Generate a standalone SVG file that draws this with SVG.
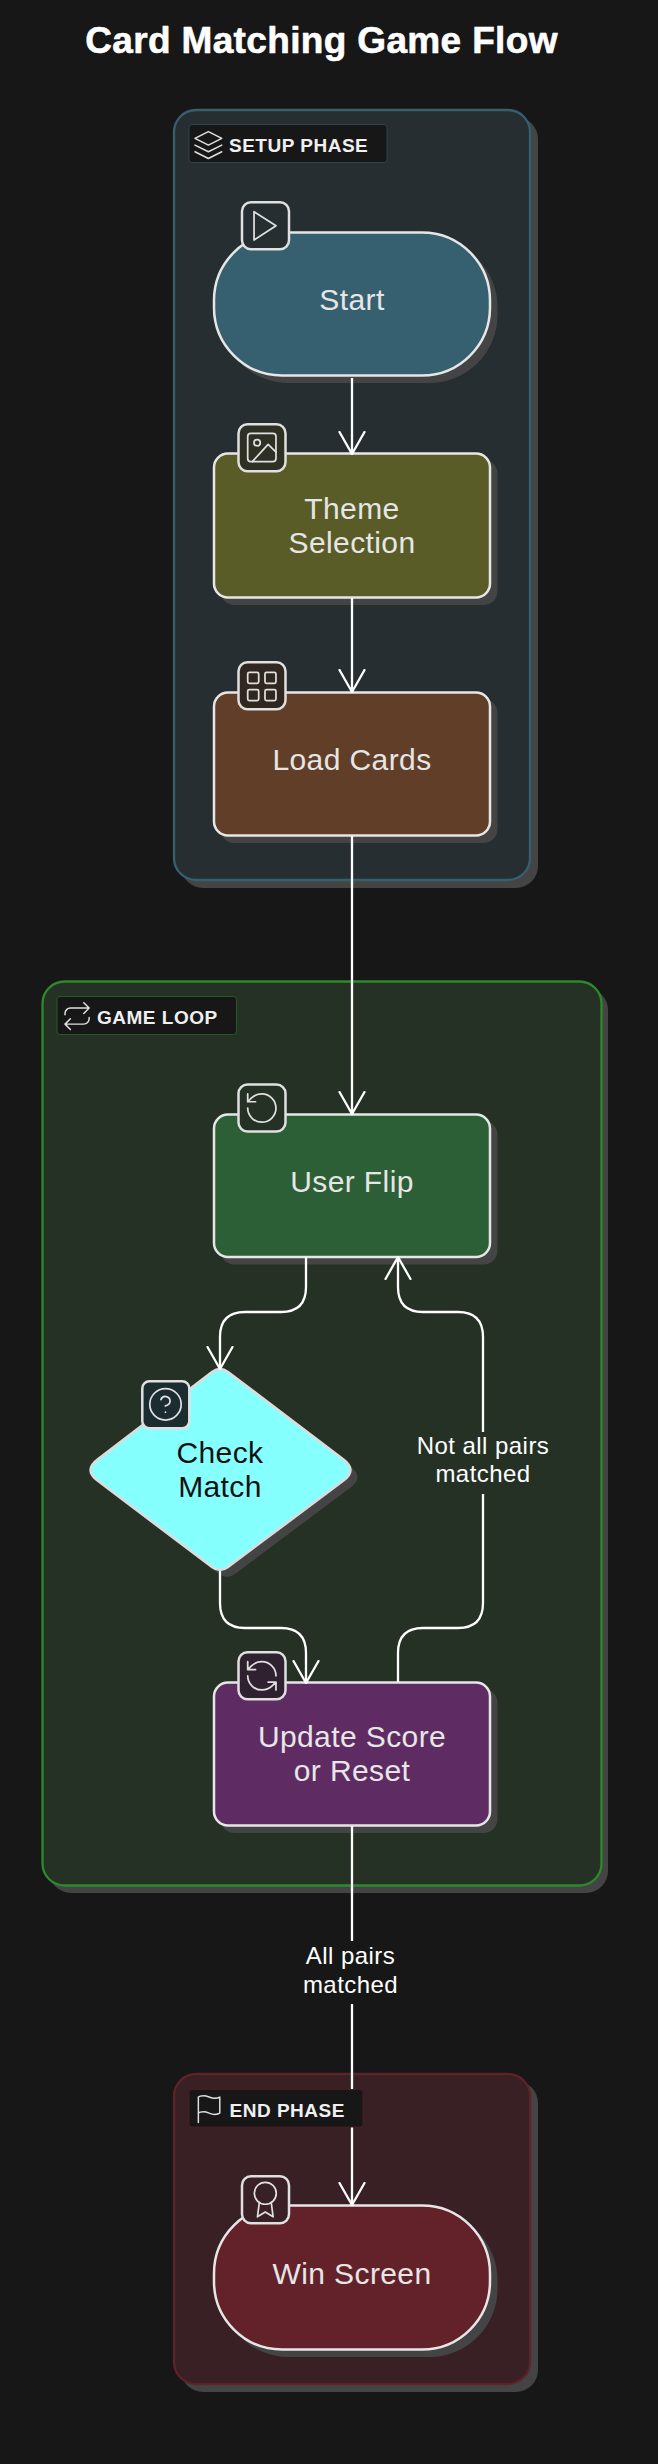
<svg xmlns="http://www.w3.org/2000/svg" width="658" height="2464" viewBox="0 0 658 2464">
<defs>
<marker id="arrow" viewBox="0 0 24 28" refX="23" refY="14" markerWidth="24" markerHeight="28" markerUnits="userSpaceOnUse" orient="auto"><path d="M1 1.500 L23 14 L1 26.500" fill="none" stroke="#ffffff" stroke-width="2.300" stroke-linecap="round" stroke-linejoin="round"/></marker>
</defs>
<style>
text{font-family:"Liberation Sans",Arial,sans-serif;text-anchor:middle}
.bg{fill:#171717}
.shadow{fill:#444444}
.ctitle{font-size:19px;font-weight:700;fill:#f0f0f0;text-anchor:start;letter-spacing:.5px}
.lab{fill:#171717;stroke-width:1}
.node{stroke:#e6e6e6;stroke-width:2.500}
.ntext{font-size:30px;fill:#e6e6e6;letter-spacing:.4px}
.badge{stroke:#e0e0e0;stroke-width:2.500}
.ico{fill:none;stroke:#e0e0e0;stroke-width:1.100;stroke-linecap:round;stroke-linejoin:round}
.edge{fill:none;stroke:#ffffff;stroke-width:2.300}
.elab{font-size:24px;fill:#ffffff;letter-spacing:.45px}
</style>
<rect class="bg" width="658" height="2464"/>
<text x="321.500" y="52.500" font-size="37" font-weight="700" fill="#ffffff" stroke="#ffffff" stroke-width=".6" stroke-linejoin="round" letter-spacing=".35">Card Matching Game Flow</text>

<g id="cluster-setup">
<rect class="shadow" x="181" y="117" width="357" height="771" rx="22"/>
<rect x="174" y="110" width="356" height="770" rx="22" fill="#262E31" stroke="#36606F" stroke-width="2.300"/>
<rect class="lab" x="189" y="124.500" width="198" height="38" rx="3" stroke="#2b4753"/>
<g class="ico" transform="translate(192.300 129) scale(1.340)"><path d="M12 2 L2 7 L12 12 L22 7 Z M2 17 L12 22 L22 17 M2 12 L12 17 L22 12"/></g>
<text class="ctitle" x="229" y="152">SETUP PHASE</text>
</g>
<g id="cluster-loop">
<rect class="shadow" x="49" y="988" width="559" height="905" rx="22"/>
<rect x="42.500" y="981.500" width="559" height="904" rx="22" fill="#263126" stroke="#2B8A2B" stroke-width="2.300"/>
<rect class="lab" x="57" y="996.500" width="179.500" height="38" rx="3" stroke="#235c23"/>
<g class="ico" transform="translate(61 1000) scale(1.340)"><path d="M17 2l4 4-4 4M3 11v-1a4 4 0 0 1 4-4h14M7 22l-4-4 4-4M21 13v1a4 4 0 0 1-4 4H3"/></g>
<text class="ctitle" x="97" y="1024">GAME LOOP</text>
</g>
<g id="cluster-end">
<rect class="shadow" x="181" y="2081" width="357" height="311" rx="22"/>
<rect x="174" y="2074" width="356" height="310" rx="22" fill="#392025" stroke="#5E2229" stroke-width="2.300"/>
</g>

<g id="node-start">
<rect class="shadow" x="220.500" y="239" width="277" height="144" rx="68"/>
<rect class="node" x="214" y="232.500" width="276" height="143" rx="68" fill="#36606F"/>
<text class="ntext" x="352" y="310">Start</text>
<rect class="badge" x="242" y="202.300" width="47" height="47" rx="9" fill="#262E31"/>
<g class="ico" transform="translate(244.600 207) scale(1.570)"><path d="M6 3 L20 12 L6 21 Z"/></g>
</g>
<g id="node-theme">
<rect class="shadow" x="220.500" y="460" width="277" height="145" rx="14"/>
<rect class="node" x="214" y="453.500" width="276" height="144" rx="14" fill="#5A5C28"/>
<text class="ntext" x="352" y="519">Theme</text><text class="ntext" x="352" y="553">Selection</text>
<rect class="badge" x="238.500" y="424.300" width="47" height="47" rx="9" fill="#2F3024"/>
<g class="ico" transform="translate(243 428.600) scale(1.570)"><rect x="3" y="3" width="18" height="18" rx="2"/><circle cx="9" cy="9" r="2"/><path d="M21 15l-5-5L6 21"/></g>
</g>
<g id="node-load">
<rect class="shadow" x="220.500" y="699" width="277" height="144" rx="14"/>
<rect class="node" x="214" y="692.500" width="276" height="143" rx="14" fill="#613E27"/>
<text class="ntext" x="352" y="770">Load Cards</text>
<rect class="badge" x="238.500" y="662.300" width="47" height="47" rx="9" fill="#302721"/>
<g class="ico" transform="translate(243 667.600) scale(1.570)"><rect x="3" y="3" width="7" height="7" rx="1"/><rect x="14" y="3" width="7" height="7" rx="1"/><rect x="14" y="14" width="7" height="7" rx="1"/><rect x="3" y="14" width="7" height="7" rx="1"/></g>
</g>
<g id="node-flip">
<rect class="shadow" x="220.500" y="1121" width="277" height="143.500" rx="14"/>
<rect class="node" x="214" y="1114.500" width="276" height="142.500" rx="14" fill="#2C5F35"/>
<text class="ntext" x="352" y="1192">User Flip</text>
<rect class="badge" x="238.500" y="1084.600" width="47" height="47" rx="9" fill="#263126"/>
<g class="ico" transform="translate(243 1089.200) scale(1.570)"><path d="M3 12a9 9 0 1 0 9-9 9.750 9.750 0 0 0-6.740 2.740L3 8M3 3v5h5"/></g>
</g>
<g id="node-check">
<path class="shadow" transform="translate(7 7)" d="M212 1372 Q220 1366 228 1372 L343.500 1459.400 Q357.500 1470 343.500 1480.600 L228 1567 Q220 1573 212 1567 L97.500 1480.600 Q83.500 1470 97.500 1459.400 Z"/>
<path d="M212 1372 Q220 1366 228 1372 L343.500 1459.400 Q357.500 1470 343.500 1480.600 L228 1567 Q220 1573 212 1567 L97.500 1480.600 Q83.500 1470 97.500 1459.400 Z" fill="#86FFFF" stroke="#dcdcdc" stroke-width="2.500"/>
<text x="220" y="1463" font-size="30" letter-spacing=".4" fill="#111111">Check</text><text x="220" y="1497" font-size="30" letter-spacing=".4" fill="#111111">Match</text>
<rect class="badge" x="142.300" y="1381.300" width="47" height="47" rx="7" fill="#1C2D31"/>
<g class="ico" transform="translate(146.650 1385.500) scale(1.570)"><circle cx="12" cy="12" r="10"/><path d="M9.090 9a3 3 0 0 1 5.830 1c0 2-3 3-3 3M12 17h.01"/></g>
</g>
<g id="node-update">
<rect class="shadow" x="220.500" y="1689" width="277" height="144" rx="14"/>
<rect class="node" x="214" y="1682.500" width="276" height="143" rx="14" fill="#5E2C62"/>
<text class="ntext" x="352" y="1747">Update Score</text><text class="ntext" x="352" y="1781">or Reset</text>
<rect class="badge" x="238.500" y="1652.300" width="47" height="47" rx="9" fill="#2F2130"/>
<g class="ico" transform="translate(243 1657) scale(1.570)"><path d="M21 12a9 9 0 0 0-9-9 9.750 9.750 0 0 0-6.740 2.740L3 8M3 3v5h5M3 12a9 9 0 0 0 9 9 9.750 9.750 0 0 0 6.740-2.740L21 16M16 16h5v5"/></g>
</g>
<g id="node-win">
<rect class="shadow" x="220.500" y="2212" width="277" height="145" rx="68"/>
<rect class="node" x="214" y="2205.500" width="276" height="144" rx="68" fill="#632229"/>
<text class="ntext" x="352" y="2284">Win Screen</text>
<rect class="badge" x="242" y="2176.300" width="47" height="47" rx="9" fill="#392025"/>
<g class="ico" transform="translate(246.450 2180.700) scale(1.570)"><circle cx="12" cy="8" r="7"/><path d="M8.210 13.890 7 23l5-3 5 3-1.210-9.120"/></g>
</g>

<g id="connectors">
<path class="edge" d="M352 378 V454" marker-end="url(#arrow)"/>
<path class="edge" d="M352 598 V692" marker-end="url(#arrow)"/>
<path class="edge" d="M352 836 V1114" marker-end="url(#arrow)"/>
<path class="edge" d="M306 1257 V1287 Q306 1312 281 1312 H245 Q220 1312 220 1337 V1369" marker-end="url(#arrow)"/>
<path class="edge" d="M220 1571 V1603 Q220 1628 245 1628 H281 Q306 1628 306 1653 V1683" marker-end="url(#arrow)"/>
<path class="edge" d="M398 1682 V1653 Q398 1628 423 1628 H458 Q483 1628 483 1603 V1337 Q483 1312 458 1312 H423 Q398 1312 398 1287 V1257" marker-end="url(#arrow)"/>
<path class="edge" d="M352 1826 V2205" marker-end="url(#arrow)"/>
</g>

<g id="end-label">
<rect class="lab" x="189" y="2089.500" width="174" height="37.500" rx="3" stroke="#4a1c22"/>
<g class="ico" transform="translate(193 2093) scale(1.340)"><path d="M4 15s1-1 4-1 5 2 8 2 4-1 4-1V3s-1 1-4 1-5-2-8-2-4 1-4 1zM4 22v-7"/></g>
<text class="ctitle" x="229.500" y="2116.500">END PHASE</text>
</g>

<g id="edge-label-1"><rect x="414" y="1432" width="138" height="62" fill="#263126"/><text class="elab" x="483" y="1454">Not all pairs</text><text class="elab" x="483" y="1482">matched</text></g>
<g id="edge-label-2"><rect x="300" y="1941" width="104" height="63" fill="#171717"/><text class="elab" x="350.500" y="1964">All pairs</text><text class="elab" x="350.500" y="1993">matched</text></g>
</svg>
